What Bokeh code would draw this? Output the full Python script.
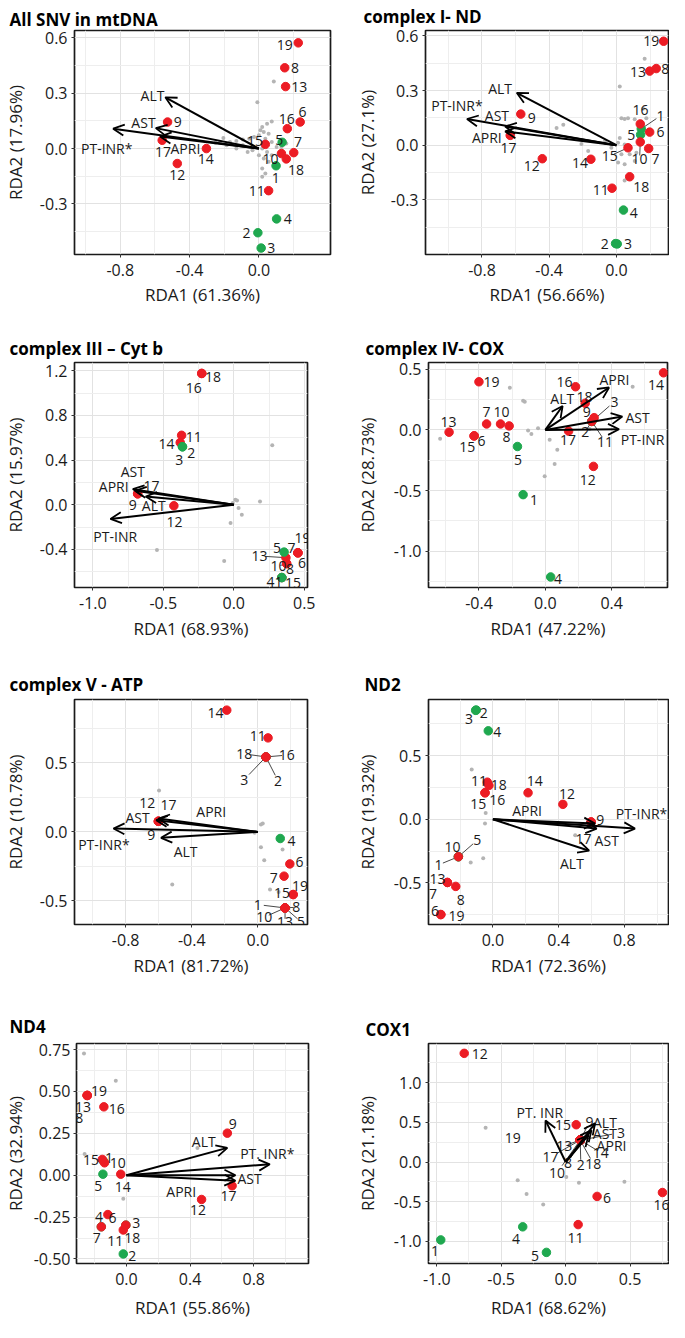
from bokeh.plotting import figure
from bokeh.models import (ColumnDataSource, Arrow, OpenHead, FixedTicker,
                          NumeralTickFormatter, Range1d)
from bokeh.layouts import row, column
from bokeh.embed import file_html
from bokeh.resources import INLINE
from bokeh.core.properties import value

# ---------------------------------------------------------------- data
GREEN_SITES = ["1", "2", "3", "4", "5"]

# Panel 1 : All SNV in mtDNA
P1_TITLE = "All SNV in mtDNA"
P1_XLAB = "RDA1 (61.36%)"
P1_YLAB = "RDA2 (17.96%)"
P1_SITE = ["1", "2", "3", "4", "5", "6", "7", "8", "9", "10", "11", "12", "13", "14", "15", "16", "17", "18", "19"]
P1_X = [0.099, -0.006, 0.013, 0.102, 0.134, 0.238, 0.201, 0.149, -0.527, 0.130, 0.056, -0.471, 0.154, -0.303, 0.037, 0.164, -0.558, 0.158, 0.227]
P1_Y = [-0.093, -0.456, -0.539, -0.381, 0.034, 0.144, -0.022, 0.438, 0.144, -0.027, -0.228, -0.081, 0.336, 0.000, 0.023, 0.108, 0.045, -0.056, 0.573]
P1_LX = [0.097, -0.071, 0.071, 0.167, 0.118, 0.251, 0.226, 0.208, -0.469, 0.067, -0.013, -0.471, 0.233, -0.307, -0.022, 0.160, -0.554, 0.214, 0.149]
P1_LY = [-0.158, -0.456, -0.539, -0.381, 0.048, 0.198, 0.036, 0.435, 0.144, -0.054, -0.228, -0.144, 0.336, -0.057, 0.043, 0.162, -0.018, -0.117, 0.560]
P1_SEG = []
P1_GX = [0.086, -0.009, 0.074, 0.047, 0.019, 0.009, 0.028, 0.056, 0.000, -0.028, -0.056, -0.093, -0.130, -0.167, -0.205, -0.223, -0.251, 0.037, 0.074, 0.102, 0.019, 0.047, 0.074, 0.000, 0.028, 0.056, 0.019, 0.037, 0.019, -0.037, -0.065, -0.093, 0.130, 0.158, -0.130, -0.186]
P1_GY = [0.363, 0.251, 0.147, 0.135, 0.117, 0.099, 0.090, 0.081, 0.072, 0.063, 0.054, 0.049, 0.041, 0.036, 0.057, 0.036, 0.031, 0.054, 0.036, 0.009, 0.000, -0.018, -0.036, -0.036, -0.054, -0.072, -0.108, -0.135, -0.153, -0.009, -0.018, 0.018, 0.009, 0.027, 0.000, 0.018]
P1_VAR = ["ALT", "AST", "PT-INR*", "APRI"]
P1_VX = [-0.540, -0.595, -0.841, -0.570]
P1_VY = [0.278, 0.111, 0.108, 0.065]
P1_VLX = [-0.614, -0.666, -0.878, -0.424]
P1_VLY = [0.290, 0.144, 0.000, 0.000]
P1_XRANGE = [-1.064, 0.413]
P1_YRANGE = [-0.574, 0.640]
P1_XTICKS = [-0.8, -0.4, 0.0]
P1_XMINOR = [-1.0, -0.6, -0.2, 0.2]
P1_YTICKS = [-0.3, 0.0, 0.3, 0.6]
P1_YMINOR = [-0.45, -0.15, 0.15, 0.45]

# Panel 2 : complex I - ND
P2_TITLE = "complex I- ND"
P2_XLAB = "RDA1 (56.66%)"
P2_YLAB = "RDA2 (27.1%)"
P2_SITE = ["1", "2", "3", "4", "5", "6", "7", "8", "9", "10", "11", "12", "13", "14", "15", "16", "17", "18", "19"]
P2_X = [0.148, -0.005, 0.005, 0.042, 0.144, 0.198, 0.192, 0.237, -0.569, 0.142, -0.026, -0.441, 0.198, -0.152, 0.069, 0.142, -0.632, 0.079, 0.281]
P2_Y = [0.090, -0.540, -0.542, -0.356, 0.058, 0.072, -0.018, 0.421, 0.171, 0.018, -0.236, -0.074, 0.407, -0.077, -0.014, 0.117, 0.054, -0.173, 0.571]
P2_LX = [0.263, -0.069, 0.069, 0.103, 0.089, 0.263, 0.233, 0.290, -0.504, 0.138, -0.093, -0.504, 0.128, -0.217, -0.040, 0.144, -0.642, 0.148, 0.208]
P2_LY = [0.162, -0.545, -0.545, -0.371, 0.054, 0.072, -0.077, 0.421, 0.148, -0.077, -0.248, -0.113, 0.400, -0.095, -0.059, 0.193, -0.014, -0.230, 0.571]
P2_SEG = ["1", "10", "15"]
P2_GX = [0.168, 0.020, 0.158, 0.030, 0.049, 0.069, 0.109, 0.178, -0.316, -0.356, -0.208, -0.168, 0.010, 0.049, 0.030, 0.010, 0.049, 0.079, 0.119, 0.109, 0.049, 0.020, -0.030, -0.069]
P2_GY = [0.475, 0.322, 0.200, 0.148, 0.144, 0.148, 0.142, 0.148, 0.112, 0.094, 0.007, -0.032, 0.013, 0.004, -0.050, -0.095, -0.104, -0.050, -0.041, -0.086, -0.194, 0.040, -0.014, 0.022]
P2_VAR = ["ALT", "PT-INR*", "AST", "APRI"]
P2_VX = [-0.593, -0.889, -0.662, -0.662]
P2_VY = [0.288, 0.144, 0.103, 0.076]
P2_VLX = [-0.692, -0.949, -0.711, -0.771]
P2_VLY = [0.310, 0.220, 0.162, 0.043]
P2_XRANGE = [-1.136, 0.310]
P2_YRANGE = [-0.600, 0.630]
P2_XTICKS = [-0.8, -0.4, 0.0]
P2_XMINOR = [-1.0, -0.6, -0.2, 0.2]
P2_YTICKS = [-0.3, 0.0, 0.3, 0.6]
P2_YMINOR = [-0.45, -0.15, 0.15, 0.45]

# Panel 3 : complex III - Cyt b
P3_TITLE = "complex III \u2013 Cyt b"
P3_XLAB = "RDA1 (68.93%)"
P3_YLAB = "RDA2 (15.97%)"
P3_SITE = ["6", "7", "8", "9", "10", "11", "12", "13", "14", "15", "16", "17", "18", "19", "1", "2", "3", "4", "5"]
P3_X = [0.455, 0.455, 0.375, -0.682, 0.375, -0.370, -0.425, 0.370, -0.380, 0.341, -0.227, -0.682, -0.227, 0.455, 0.341, -0.364, -0.364, 0.341, 0.357]
P3_Y = [-0.430, -0.430, -0.527, 0.098, -0.527, 0.622, -0.009, -0.474, 0.557, -0.652, 1.176, 0.098, 1.176, -0.430, -0.652, 0.519, 0.519, -0.652, -0.424]
P3_LX = [0.484, 0.409, 0.398, -0.716, 0.318, -0.284, -0.420, 0.182, -0.477, 0.420, -0.284, -0.584, -0.148, 0.488, 0.318, -0.302, -0.386, 0.261, 0.307]
P3_LY = [-0.524, -0.385, -0.572, 0.000, -0.548, 0.607, -0.154, -0.459, 0.548, -0.702, 1.046, 0.169, 1.141, -0.300, -0.696, 0.465, 0.400, -0.696, -0.385]
P3_SEG = ["10", "13"]
P3_GX = [0.273, 0.011, 0.023, -0.007, 0.034, 0.057, 0.186, -0.023, -0.068, -0.545]
P3_GY = [0.533, 0.044, 0.039, 0.015, -0.030, -0.089, 0.030, -0.163, -0.504, -0.406]
P3_VAR = ["AST", "APRI", "ALT", "PT-INR"]
P3_VX = [-0.716, -0.700, -0.625, -0.875]
P3_VY = [0.140, 0.125, 0.074, -0.127]
P3_VLX = [-0.716, -0.852, -0.568, -0.841]
P3_VLY = [0.296, 0.163, -0.009, -0.281]
P3_XRANGE = [-1.130, 0.523]
P3_YRANGE = [-0.741, 1.274]
P3_XTICKS = [-1.0, -0.5, 0.0, 0.5]
P3_XMINOR = [-0.75, -0.25, 0.25]
P3_YTICKS = [-0.4, 0.0, 0.4, 0.8, 1.2]
P3_YMINOR = [-0.6, -0.2, 0.2, 0.6, 1.0]

# Panel 4 : complex IV - COX
P4_TITLE = "complex IV- COX"
P4_XLAB = "RDA1 (47.22%)"
P4_YLAB = "RDA2 (28.73%)"
P4_SITE = ["1", "2", "3", "4", "5", "6", "7", "8", "10", "11", "12", "13", "14", "15", "16", "17", "18", "19", "9"]
P4_X = [-0.134, 0.280, 0.280, 0.032, -0.168, -0.428, -0.354, -0.218, -0.270, 0.280, 0.290, -0.580, 0.712, -0.430, 0.182, 0.140, 0.240, -0.400, 0.294]
P4_Y = [-0.534, 0.070, 0.070, -1.213, -0.137, -0.049, 0.049, 0.033, 0.049, 0.070, -0.301, -0.019, 0.471, -0.050, 0.356, -0.010, 0.220, 0.397, 0.101]
P4_LX = [-0.068, 0.240, 0.416, 0.076, -0.164, -0.384, -0.354, -0.234, -0.264, 0.360, 0.256, -0.584, 0.666, -0.470, 0.116, 0.136, 0.236, -0.324, 0.250]
P4_LY = [-0.575, -0.014, 0.233, -1.232, -0.246, -0.090, 0.145, -0.055, 0.145, -0.096, -0.411, 0.063, 0.370, -0.145, 0.397, -0.082, 0.274, 0.397, 0.145]
P4_SEG = ["2", "3", "11"]
P4_GX = [-0.214, -0.134, -0.124, -0.634, -0.104, -0.084, -0.044, 0.072, 0.056, -0.004, 0.526, 0.266, 0.026]
P4_GY = [0.348, 0.241, 0.233, -0.074, -0.005, -0.033, 0.014, -0.164, -0.282, -0.383, 0.356, 0.008, -0.082]
P4_VAR = ["APRI", "ALT", "AST", "PT-INR"]
P4_VX = [0.384, 0.104, 0.464, 0.444]
P4_VY = [0.350, 0.197, 0.110, 0.005]
P4_VLX = [0.416, 0.102, 0.556, 0.586]
P4_VLY = [0.419, 0.255, 0.101, -0.082]
P4_XRANGE = [-0.704, 0.736]
P4_YRANGE = [-1.300, 0.556]
P4_XTICKS = [-0.4, 0.0, 0.4]
P4_XMINOR = [-0.6, -0.2, 0.2, 0.6]
P4_YTICKS = [-1.0, -0.5, 0.0, 0.5]
P4_YMINOR = [-1.25, -0.75, -0.25, 0.25]

# Panel 5 : complex V - ATP
P5_TITLE = "complex V - ATP"
P5_XLAB = "RDA1 (81.72%)"
P5_YLAB = "RDA2 (10.78%)"
P5_SITE = ["1", "2", "3", "4", "5", "6", "7", "8", "9", "10", "11", "12", "13", "14", "15", "16", "17", "18", "19"]
P5_X = [0.165, 0.049, 0.049, 0.136, 0.165, 0.194, 0.159, 0.165, -0.602, 0.165, 0.062, -0.602, 0.165, -0.188, 0.214, 0.049, -0.602, 0.049, 0.214]
P5_Y = [-0.551, 0.543, 0.543, -0.048, -0.551, -0.232, -0.321, -0.551, 0.077, -0.551, 0.681, 0.077, -0.551, 0.882, -0.454, 0.543, 0.077, 0.543, -0.454]
P5_LX = [0.000, 0.122, -0.082, 0.204, 0.262, 0.252, 0.097, 0.233, -0.645, 0.039, 0.000, -0.670, 0.165, -0.256, 0.146, 0.175, -0.540, -0.082, 0.256]
P5_LY = [-0.527, 0.372, 0.379, -0.063, -0.652, -0.217, -0.333, -0.546, -0.019, -0.618, 0.698, 0.210, -0.652, 0.862, -0.442, 0.556, 0.198, 0.565, -0.389]
P5_SEG = ["1", "2", "3", "5", "8", "10", "13", "16", "18"]
P5_GX = [-0.598, 0.019, 0.030, 0.019, 0.039, 0.150, -0.518, 0.074, -0.019, 0.126]
P5_GY = [0.300, 0.053, 0.060, -0.111, -0.205, -0.128, -0.382, -0.418, -0.007, -0.435]
P5_VAR = ["APRI", "AST", "PT-INR*", "ALT"]
P5_VX = [-0.602, -0.615, -0.874, -0.586]
P5_VY = [0.097, 0.085, 0.024, -0.043]
P5_VLX = [-0.282, -0.728, -0.932, -0.437]
P5_VLY = [0.145, 0.106, -0.092, -0.140]
P5_XRANGE = [-1.110, 0.301]
P5_YRANGE = [-0.671, 0.959]
P5_XTICKS = [-0.8, -0.4, 0.0]
P5_XMINOR = [-1.0, -0.6, -0.2, 0.2]
P5_YTICKS = [-0.5, 0.0, 0.5]
P5_YMINOR = [-0.25, 0.25, 0.75]

# Panel 6 : ND2
P6_TITLE = "ND2"
P6_XLAB = "RDA1 (72.36%)"
P6_YLAB = "RDA2 (19.32%)"
P6_SITE = ["1", "2", "3", "4", "5", "6", "7", "8", "9", "10", "11", "12", "13", "14", "15", "16", "17", "18", "19"]
P6_X = [-0.210, -0.101, -0.105, -0.028, -0.210, -0.317, -0.277, -0.226, 0.598, -0.210, -0.034, 0.426, -0.277, 0.214, -0.048, -0.048, 0.598, -0.024, -0.317]
P6_Y = [-0.294, 0.857, 0.855, 0.694, -0.294, -0.748, -0.496, -0.527, -0.021, -0.294, 0.291, 0.117, -0.496, 0.208, 0.208, 0.208, -0.021, 0.265, -0.748]
P6_LX = [-0.331, -0.055, -0.145, 0.026, -0.095, -0.352, -0.364, -0.196, 0.653, -0.246, -0.085, 0.451, -0.337, 0.255, -0.089, 0.026, 0.552, 0.036, -0.222]
P6_LY = [-0.358, 0.836, 0.784, 0.681, -0.164, -0.722, -0.584, -0.631, -0.003, -0.216, 0.304, 0.200, -0.470, 0.304, 0.122, 0.153, -0.151, 0.265, -0.756]
P6_SEG = ["1", "5"]
P6_GX = [-0.129, -0.044, -0.048, -0.059, -0.135, 0.501]
P6_GY = [0.390, 0.049, -0.034, -0.306, -0.340, -0.125]
P6_VAR = ["APRI", "PT-INR*", "AST", "ALT"]
P6_VX = [0.622, 0.865, 0.632, 0.586]
P6_VY = [-0.034, -0.073, -0.073, -0.247]
P6_VLX = [0.208, 0.905, 0.693, 0.481]
P6_VLY = [0.065, 0.049, -0.164, -0.345]
P6_XRANGE = [-0.392, 1.069]
P6_YRANGE = [-0.826, 0.940]
P6_XTICKS = [0.0, 0.4, 0.8]
P6_XMINOR = [-0.2, 0.2, 0.6, 1.0]
P6_YTICKS = [-0.5, 0.0, 0.5]
P6_YMINOR = [-0.75, -0.25, 0.25, 0.75]

# Panel 7 : ND4
P7_TITLE = "ND4"
P7_XLAB = "RDA1 (55.86%)"
P7_YLAB = "RDA2 (32.94%)"
P7_SITE = ["1", "2", "3", "4", "5", "6", "7", "8", "9", "10", "11", "12", "13", "14", "15", "16", "17", "18", "19"]
P7_X = [-0.145, -0.020, -0.004, -0.158, -0.148, -0.117, -0.158, -0.247, 0.634, -0.138, -0.020, 0.472, -0.247, -0.036, -0.152, -0.142, 0.664, -0.004, -0.247]
P7_Y = [0.085, -0.470, -0.298, -0.308, 0.006, -0.235, -0.308, 0.476, 0.251, 0.074, -0.327, -0.145, 0.476, 0.006, 0.094, 0.408, -0.063, -0.298, 0.476]
P7_LX = [-0.110, 0.036, 0.061, -0.172, -0.178, -0.087, -0.186, -0.296, 0.668, -0.055, -0.071, 0.450, -0.273, -0.024, -0.223, -0.061, 0.642, 0.036, -0.172]
P7_LY = [0.100, -0.480, -0.284, -0.249, -0.063, -0.255, -0.376, 0.343, 0.306, 0.070, -0.392, -0.210, 0.408, -0.069, 0.088, 0.394, -0.127, -0.376, 0.500]
P7_SEG = []
P7_GX = [-0.267, -0.067, -0.263, 0.446, -0.020]
P7_GY = [0.727, 0.564, 0.127, 0.163, -0.141]
P7_VAR = ["ALT", "PT. INR*", "AST", "APRI"]
P7_VX = [0.634, 0.901, 0.685, 0.685]
P7_VY = [0.163, 0.065, 0.000, -0.033]
P7_VLX = [0.486, 0.885, 0.774, 0.344]
P7_VLY = [0.202, 0.129, -0.020, -0.096]
P7_XRANGE = [-0.314, 1.144]
P7_YRANGE = [-0.527, 0.786]
P7_XTICKS = [0.0, 0.4, 0.8]
P7_XMINOR = [-0.2, 0.2, 0.6, 1.0]
P7_YTICKS = [-0.5, -0.25, 0.0, 0.25, 0.5, 0.75]
P7_YMINOR = [-0.375, -0.125, 0.125, 0.375, 0.625]

# Panel 8 : COX1
P8_TITLE = "COX1"
P8_XLAB = "RDA1 (68.62%)"
P8_YLAB = "RDA2 (21.18%)"
P8_SITE = ["1", "2", "3", "4", "5", "6", "8", "9", "10", "11", "12", "13", "14", "15", "16", "17", "18", "19"]
P8_X = [-0.969, 0.113, 0.113, -0.333, -0.149, 0.244, 0.113, 0.113, 0.113, 0.097, -0.787, 0.113, 0.113, 0.082, 0.751, 0.113, 0.113, 0.113]
P8_Y = [-0.981, 0.276, 0.276, -0.816, -1.138, -0.433, 0.276, 0.276, 0.276, -0.788, 1.369, 0.276, 0.276, 0.470, -0.384, 0.276, 0.276, 0.276]
P8_LX = [-1.013, 0.118, 0.430, -0.385, -0.238, 0.321, 0.018, 0.185, -0.067, 0.077, -0.667, -0.010, 0.272, -0.020, 0.744, -0.118, 0.215, -0.410]
P8_LY = [-1.126, -0.041, 0.371, -0.973, -1.188, -0.454, -0.012, 0.503, -0.136, -0.961, 1.361, 0.206, 0.120, 0.462, -0.536, 0.062, -0.021, 0.305]
P8_SEG = ["2", "3", "8", "9", "10", "13", "14", "17", "18"]
P8_GX = [-0.621, -0.372, -0.303, -0.174, 0.103, 0.456, 0.005]
P8_GY = [0.433, -0.231, -0.404, -0.536, -0.260, -0.247, -0.190]
P8_VAR = ["PT. INR", "ALT", "AST", "APRI"]
P8_VX = [-0.156, 0.228, 0.200, 0.177]
P8_VY = [0.524, 0.487, 0.400, 0.338]
P8_VLX = [-0.200, 0.305, 0.305, 0.356]
P8_VLY = [0.627, 0.503, 0.359, 0.214]
P8_XRANGE = [-1.064, 0.798]
P8_YRANGE = [-1.278, 1.493]
P8_XTICKS = [-1.0, -0.5, 0.0, 0.5]
P8_XMINOR = [-0.75, -0.25, 0.25, 0.75]
P8_YTICKS = [-1.0, -0.5, 0.0, 0.5, 1.0]
P8_YMINOR = [-1.25, -0.75, -0.25, 0.25, 0.75, 1.25]

# ---------------------------------------------------------------- style
FONT = "Open Sans"
RED = "#EC1C24"
GREEN = "#1FA84F"
GREY = "#B4B4B4"
TXT = "#1A1A1A"

# figure geometry: size, borders, title offset/standoff, axis-label standoffs
GEOM = {
    1: dict(w=352, h=330, bl=65, br=22, bt=25, bb=76, toff=-65, tst=0, yst=10, ylst=3, xst=4),
    2: dict(w=317, h=330, bl=72, br=1, bt=29, bb=73, toff=-62, tst=5, yst=9, ylst=3, xst=4),
    3: dict(w=352, h=334, bl=65, br=45, bt=30, bb=77, toff=-65, tst=6, yst=10, ylst=3, xst=5),
    4: dict(w=317, h=334, bl=75, br=2, bt=32, bb=75, toff=-63, tst=5, yst=12, ylst=3, xst=5),
    5: dict(w=352, h=336, bl=65, br=45, bt=35, bb=76, toff=-65, tst=8, yst=10, ylst=3, xst=5),
    6: dict(w=317, h=336, bl=75, br=1, bt=35, bb=75, toff=-64, tst=7, yst=12, ylst=3, xst=5),
    7: dict(w=352, h=322, bl=67, br=44, bt=43, bb=56, toff=-67, tst=12, yst=4, ylst=2, xst=8),
    8: dict(w=317, h=322, bl=74, br=1, bt=39, bb=59, toff=-63, tst=6, yst=12, ylst=3, xst=8),
}


def make_panel(n, title, xlab, ylab, site, sx, sy, lx, ly, seg, gx, gy,
               var, vx, vy, vlx, vly, xr, yr, xt, xm, yt, ym, yfmt="0.0"):
    g = GEOM[n]
    p = figure(width=g["w"], height=g["h"], x_range=Range1d(*xr), y_range=Range1d(*yr),
               output_backend="svg", toolbar_location=None,
               min_border_left=g["bl"], min_border_right=g["br"],
               min_border_top=g["bt"], min_border_bottom=g["bb"],
               background_fill_color="white", border_fill_color="white")
    p.title.text = title
    p.title.text_font = FONT
    p.title.text_font_size = "17px"
    p.title.text_font_style = "bold"
    p.title.text_color = "black"
    p.title.align = "left"
    p.title.offset = g["toff"]
    p.title.standoff = g["tst"]

    p.outline_line_color = "#1A1A1A"
    p.outline_line_width = 1.7

    p.xaxis.ticker = FixedTicker(ticks=xt, minor_ticks=xm)
    p.yaxis.ticker = FixedTicker(ticks=yt, minor_ticks=ym)
    p.xaxis.formatter = NumeralTickFormatter(format="0.0")
    p.yaxis.formatter = NumeralTickFormatter(format=yfmt)
    p.xaxis.axis_label = xlab
    p.yaxis.axis_label = ylab
    for ax in (p.xaxis, p.yaxis):
        ax.axis_line_color = None
        ax.major_tick_in = 0
        ax.major_tick_out = 3
        ax.major_tick_line_color = "#333333"
        ax.minor_tick_line_color = None
        ax.major_label_text_font = FONT
        ax.major_label_text_font_size = "16px"
        ax.major_label_text_color = TXT
        ax.axis_label_text_font = FONT
        ax.axis_label_text_font_size = "17px"
        ax.axis_label_text_font_style = "normal"
        ax.axis_label_text_color = TXT
    p.xaxis.major_label_standoff = 5
    p.yaxis.major_label_standoff = g["ylst"]
    p.xaxis.axis_label_standoff = g["xst"]
    p.yaxis.axis_label_standoff = g["yst"]

    p.grid.grid_line_color = "#E2E2E2"
    p.grid.grid_line_width = 1
    p.grid.minor_grid_line_color = "#EEEEEE"
    p.grid.minor_grid_line_width = 1

    # grey points (variables / SNVs)
    p.scatter(gx, gy, size=4, color=GREY, line_color=None)

    # connector segments label -> point
    sidx = [i for i, s in enumerate(site) if s in seg]
    if sidx:
        x0 = [sx[i] for i in sidx]
        y0 = [sy[i] for i in sidx]
        x1 = [sx[i] + 0.78 * (lx[i] - sx[i]) for i in sidx]
        y1 = [sy[i] + 0.78 * (ly[i] - sy[i]) for i in sidx]
        p.segment(x0, y0, x1, y1, line_color="#333333", line_width=0.9)

    # site points
    colors = [GREEN if s in GREEN_SITES else RED for s in site]
    src = ColumnDataSource(dict(x=sx, y=sy, c=colors))
    p.scatter("x", "y", source=src, size=8.5, fill_color="c", line_color="c")

    # site labels
    p.text(lx, ly, text=site, text_font=value(FONT), text_font_size="14px",
           text_color=TXT, text_align="center", text_baseline="middle")

    # environmental vectors
    asrc = ColumnDataSource(dict(x0=[0.0] * len(vx), y0=[0.0] * len(vy), x1=vx, y1=vy))
    p.add_layout(Arrow(end=OpenHead(size=11, line_width=1.8, line_color="black"),
                       x_start="x0", y_start="y0", x_end="x1", y_end="y1",
                       source=asrc, line_width=2.0, line_color="black"))
    p.text(vlx, vly, text=var, text_font=value(FONT), text_font_size="14px",
           text_color=TXT, text_align="center", text_baseline="middle")
    return p


p1 = make_panel(1, P1_TITLE, P1_XLAB, P1_YLAB, P1_SITE, P1_X, P1_Y, P1_LX, P1_LY, P1_SEG,
                P1_GX, P1_GY, P1_VAR, P1_VX, P1_VY, P1_VLX, P1_VLY,
                P1_XRANGE, P1_YRANGE, P1_XTICKS, P1_XMINOR, P1_YTICKS, P1_YMINOR)
p2 = make_panel(2, P2_TITLE, P2_XLAB, P2_YLAB, P2_SITE, P2_X, P2_Y, P2_LX, P2_LY, P2_SEG,
                P2_GX, P2_GY, P2_VAR, P2_VX, P2_VY, P2_VLX, P2_VLY,
                P2_XRANGE, P2_YRANGE, P2_XTICKS, P2_XMINOR, P2_YTICKS, P2_YMINOR)
p3 = make_panel(3, P3_TITLE, P3_XLAB, P3_YLAB, P3_SITE, P3_X, P3_Y, P3_LX, P3_LY, P3_SEG,
                P3_GX, P3_GY, P3_VAR, P3_VX, P3_VY, P3_VLX, P3_VLY,
                P3_XRANGE, P3_YRANGE, P3_XTICKS, P3_XMINOR, P3_YTICKS, P3_YMINOR)
p4 = make_panel(4, P4_TITLE, P4_XLAB, P4_YLAB, P4_SITE, P4_X, P4_Y, P4_LX, P4_LY, P4_SEG,
                P4_GX, P4_GY, P4_VAR, P4_VX, P4_VY, P4_VLX, P4_VLY,
                P4_XRANGE, P4_YRANGE, P4_XTICKS, P4_XMINOR, P4_YTICKS, P4_YMINOR)
p5 = make_panel(5, P5_TITLE, P5_XLAB, P5_YLAB, P5_SITE, P5_X, P5_Y, P5_LX, P5_LY, P5_SEG,
                P5_GX, P5_GY, P5_VAR, P5_VX, P5_VY, P5_VLX, P5_VLY,
                P5_XRANGE, P5_YRANGE, P5_XTICKS, P5_XMINOR, P5_YTICKS, P5_YMINOR)
p6 = make_panel(6, P6_TITLE, P6_XLAB, P6_YLAB, P6_SITE, P6_X, P6_Y, P6_LX, P6_LY, P6_SEG,
                P6_GX, P6_GY, P6_VAR, P6_VX, P6_VY, P6_VLX, P6_VLY,
                P6_XRANGE, P6_YRANGE, P6_XTICKS, P6_XMINOR, P6_YTICKS, P6_YMINOR)
p7 = make_panel(7, P7_TITLE, P7_XLAB, P7_YLAB, P7_SITE, P7_X, P7_Y, P7_LX, P7_LY, P7_SEG,
                P7_GX, P7_GY, P7_VAR, P7_VX, P7_VY, P7_VLX, P7_VLY,
                P7_XRANGE, P7_YRANGE, P7_XTICKS, P7_XMINOR, P7_YTICKS, P7_YMINOR, yfmt="0.00")
p8 = make_panel(8, P8_TITLE, P8_XLAB, P8_YLAB, P8_SITE, P8_X, P8_Y, P8_LX, P8_LY, P8_SEG,
                P8_GX, P8_GY, P8_VAR, P8_VX, P8_VY, P8_VLX, P8_VLY,
                P8_XRANGE, P8_YRANGE, P8_XTICKS, P8_XMINOR, P8_YTICKS, P8_YMINOR)

layout = column(row(p1, p2), row(p3, p4), row(p5, p6), row(p7, p8))
open("out.html", "w").write(file_html(layout, INLINE))
